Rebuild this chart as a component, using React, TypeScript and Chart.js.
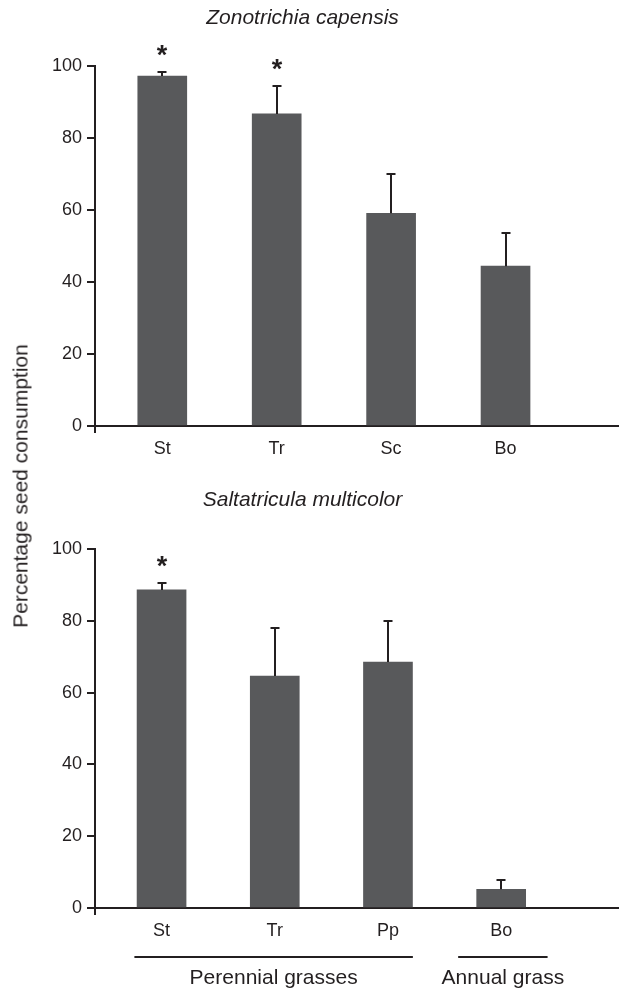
import React, { useEffect, useRef } from 'react';
import { Chart, registerables } from 'chart.js';

Chart.register(...registerables);

// ---------- data ----------
const topTitle = 'Zonotrichia capensis';
const topCategories = ['St', 'Tr', 'Sc', 'Bo'];
const topMeans = [97.2, 86.7, 59.1, 44.4];
const topSE = [1.5, 8.0, 11.1, 9.5];
const topStars = [true, true, false, false];

const bottomTitle = 'Saltatricula multicolor';
const bottomCategories = ['St', 'Tr', 'Pp', 'Bo'];
const bottomMeans = [88.6, 64.6, 68.5, 5.2];
const bottomSE = [2.3, 13.8, 11.6, 3.0];
const bottomStars = [true, false, false, false];

const yTickValues = [0, 20, 40, 60, 80, 100];
const yAxisTitle = 'Percentage seed consumption';
const groupNames = ['Perennial grasses', 'Annual grass'];
const groupMembers = [['St', 'Tr', 'Pp'], ['Bo']];

// ---------- styles ----------
const FONT = "'Liberation Sans', Arial, Helvetica, sans-serif";
const INK = '#231f20';
const BAR = '#58595b';
const CANVAS_LEFT = -13;
const CANVAS_W = 632;
const X_MIN = 0.412;
const TICK_SIZE = 18;
// how far each group's underline reaches past its first / last bar centre (in category units)
const groupReach = [[-0.24, 0.22], [-0.38, 0.41]];

type PanelCfg = {
  title: string;
  categories: string[];
  means: number[];
  se: number[];
  stars: boolean[];
  xMax: number;
  top: number;
  height: number;
  titlePadTop: number;
  titlePadBottom: number;
  xHeight: number;
  groups: boolean;
};

function makeErrorPlugin(cfg: PanelCfg) {
  return {
    id: 'errorBarsAndStars',
    afterDatasetsDraw(chart: any) {
      const meta = chart.getDatasetMeta(0);
      const y = chart.scales.y;
      const ctx = chart.ctx;
      ctx.save();
      ctx.strokeStyle = INK;
      ctx.fillStyle = INK;
      ctx.lineWidth = 2;
      meta.data.forEach((bar: any, i: number) => {
        const x = Math.round(bar.x);
        const yTop = Math.round(y.getPixelForValue(cfg.means[i] + cfg.se[i])) + 1;
        ctx.beginPath();
        ctx.moveTo(x, bar.y);
        ctx.lineTo(x, yTop);
        ctx.moveTo(x - 4.5, yTop);
        ctx.lineTo(x + 4.5, yTop);
        ctx.stroke();
        if (cfg.stars[i]) {
          ctx.font = `bold 27px ${FONT}`;
          ctx.textAlign = 'center';
          ctx.textBaseline = 'alphabetic';
          ctx.fillText('*', x, yTop - 8);
        }
      });
      ctx.restore();
    },
  };
}

const groupPlugin = {
  id: 'groupLabels',
  afterDraw(chart: any) {
    const xs = chart.scales.x;
    const base = chart.chartArea.bottom;
    const cats: string[] = chart.options.__cats;
    const ctx = chart.ctx;
    ctx.save();
    ctx.strokeStyle = INK;
    ctx.fillStyle = INK;
    ctx.lineWidth = 2;
    ctx.font = `21px ${FONT}`;
    ctx.textAlign = 'center';
    ctx.textBaseline = 'middle';
    groupMembers.forEach((members, g) => {
      const first = cats.indexOf(members[0]) + 1;
      const last = cats.indexOf(members[members.length - 1]) + 1;
      const x0 = xs.getPixelForValue(first + groupReach[g][0]);
      const x1 = xs.getPixelForValue(last + groupReach[g][1]);
      const ly = Math.round(base + 49);
      ctx.beginPath();
      ctx.moveTo(x0, ly);
      ctx.lineTo(x1, ly);
      ctx.stroke();
      ctx.fillText(groupNames[g], (x0 + x1) / 2, base + 70);
    });
    ctx.restore();
  },
};

function buildConfig(cfg: PanelCfg): any {
  const cats = cfg.categories;
  return {
    type: 'bar',
    data: {
      datasets: [
        {
          data: cfg.means.map((v, i) => ({ x: i + 1, y: v })),
          backgroundColor: BAR,
          borderWidth: 0,
          barThickness: 49,
        },
      ],
    },
    options: {
      __cats: cats,
      animation: false,
      responsive: false,
      maintainAspectRatio: false,
      devicePixelRatio: 1,
      layout: { padding: { left: 0, right: 1, top: 0, bottom: 0 } },
      plugins: {
        legend: { display: false },
        tooltip: { enabled: false },
        title: {
          display: true,
          text: cfg.title,
          color: INK,
          font: { family: FONT, size: 21, style: 'italic', weight: 'normal' },
          padding: { top: cfg.titlePadTop, bottom: cfg.titlePadBottom },
        },
      },
      scales: {
        x: {
          type: 'linear',
          min: X_MIN,
          max: cfg.xMax,
          offset: false,
          z: 1,
          afterBuildTicks: (s: any) => {
            s.ticks = [{ value: X_MIN }, ...cats.map((_, i) => ({ value: i + 1 }))];
          },
          afterFit: (s: any) => {
            s.height = cfg.xHeight;
          },
          ticks: {
            autoSkip: false,
            maxRotation: 0,
            padding: 5,
            color: INK,
            font: { family: FONT, size: TICK_SIZE },
            callback: (v: number) => {
              const i = Math.round(v) - 1;
              return Math.abs(v - (i + 1)) < 1e-6 ? cats[i] ?? '' : '';
            },
          },
          grid: {
            offset: false,
            drawOnChartArea: false,
            drawTicks: true,
            tickLength: 7,
            lineWidth: 2,
            color: (c: any) =>
              c.tick && Math.abs(c.tick.value - X_MIN) < 1e-9 ? INK : 'rgba(0,0,0,0)',
          },
          border: { display: true, color: INK, width: 2 },
        },
        y: {
          min: 0,
          max: 100,
          afterBuildTicks: (s: any) => {
            s.ticks = yTickValues.map((v) => ({ value: v }));
          },
          afterFit: (s: any) => {
            s.width = 95 - CANVAS_LEFT;
          },
          ticks: {
            padding: 5,
            color: INK,
            font: { family: FONT, size: TICK_SIZE },
          },
          grid: {
            drawOnChartArea: false,
            drawTicks: true,
            tickLength: 8,
            lineWidth: 2,
            color: INK,
          },
          border: { display: true, color: INK, width: 2 },
        },
      },
    },
    plugins: cfg.groups ? [makeErrorPlugin(cfg), groupPlugin] : [makeErrorPlugin(cfg)],
  };
}

function BarPanel({ cfg }: { cfg: PanelCfg }) {
  const ref = useRef<HTMLCanvasElement | null>(null);
  useEffect(() => {
    if (!ref.current) return;
    const chart = new Chart(ref.current, buildConfig(cfg));
    return () => chart.destroy();
  }, [cfg]);
  return (
    <canvas
      ref={ref}
      width={CANVAS_W}
      height={cfg.height}
      style={{
        position: 'absolute',
        left: CANVAS_LEFT,
        top: cfg.top,
        width: CANVAS_W,
        height: cfg.height,
        display: 'block',
      }}
    />
  );
}

const topCfg: PanelCfg = {
  title: topTitle,
  categories: topCategories,
  means: topMeans,
  se: topSE,
  stars: topStars,
  xMax: 4.983,
  top: 0,
  height: 470,
  titlePadTop: 5.4,
  titlePadBottom: 35.4,
  xHeight: 44,
  groups: false,
};

const bottomCfg: PanelCfg = {
  title: bottomTitle,
  categories: bottomCategories,
  means: bottomMeans,
  se: bottomSE,
  stars: bottomStars,
  xMax: 5.032,
  top: 470,
  height: 519,
  titlePadTop: 17.4,
  titlePadBottom: 36.4,
  xHeight: 81,
  groups: true,
};

export default function App() {
  return (
    <div
      style={{
        position: 'absolute',
        left: 0,
        top: 0,
        width: 619,
        height: 989,
        overflow: 'hidden',
        background: '#ffffff',
      }}
    >
      <BarPanel cfg={topCfg} />
      <BarPanel cfg={bottomCfg} />
      <div
        style={{
          position: 'absolute',
          left: 20,
          top: 486,
          transform: 'translate(-50%, -50%) rotate(-90deg)',
          fontFamily: FONT,
          fontSize: 21,
          lineHeight: 1,
          whiteSpace: 'nowrap',
          color: INK,
        }}
      >
        {yAxisTitle}
      </div>
    </div>
  );
}
